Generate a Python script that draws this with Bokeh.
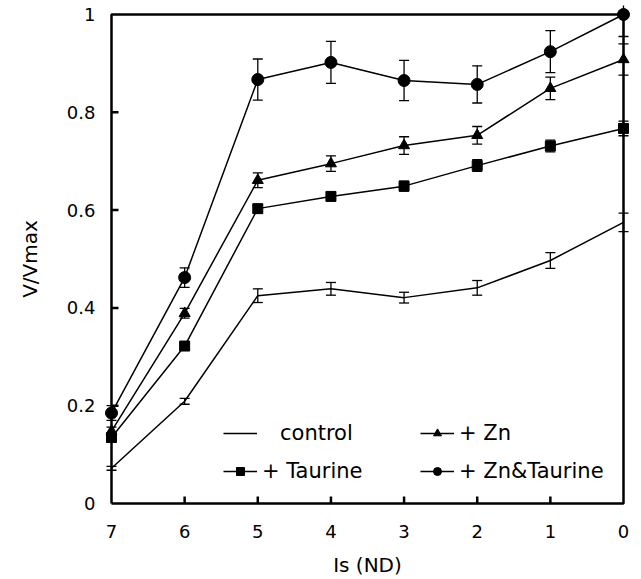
from bokeh.plotting import figure
from bokeh.models import (Range1d, FixedTicker, Whisker, TeeHead, ColumnDataSource,
                          Legend, LegendItem)
from bokeh.embed import file_html
from bokeh.resources import INLINE

# ---- data ----
x_nd = [7, 6, 5, 4, 3, 2, 1, 0]
control = [0.072, 0.209, 0.425, 0.439, 0.421, 0.441, 0.497, 0.575]
control_err = [0.004, 0.006, 0.014, 0.013, 0.011, 0.015, 0.016, 0.019]
taurine = [0.135, 0.322, 0.603, 0.628, 0.649, 0.691, 0.731, 0.767]
taurine_err = [0.006, 0.007, 0.007, 0.008, 0.010, 0.012, 0.012, 0.015]
zn = [0.148, 0.389, 0.661, 0.695, 0.732, 0.753, 0.849, 0.908]
zn_err = [0.008, 0.010, 0.015, 0.016, 0.018, 0.018, 0.023, 0.032]
zntau = [0.185, 0.462, 0.867, 0.902, 0.865, 0.857, 0.924, 1.0]
zntau_err = [0.015, 0.020, 0.042, 0.043, 0.041, 0.038, 0.043, 0.045]

x_ticks = [0, 1, 2, 3, 4, 5, 6, 7]
y_ticks = [0, 0.2, 0.4, 0.6, 0.8, 1.0]
x_min, x_max = 0, 7
y_min, y_max = 0, 1

FONT = "DejaVu Sans"

# small padding so that edge markers are not clipped by the frame
PAD_PX = 9
px_per_x = 512 / (x_max - x_min)
px_per_y = 489 / (y_max - y_min)
dx = PAD_PX / px_per_x
dy = PAD_PX / px_per_y
TICK_PX = 7

p = figure(width=641, height=579, output_backend="svg", toolbar_location=None,
           x_range=Range1d(x_max + dx, x_min - dx),
           y_range=Range1d(y_min - dy, y_max + dy),
           min_border_left=111 - PAD_PX, min_border_right=18 - PAD_PX,
           min_border_top=14 - PAD_PX, min_border_bottom=76 - PAD_PX)
p.grid.visible = False
p.outline_line_color = None
p.background_fill_color = "white"
p.border_fill_color = "white"

for ax in (p.xaxis[0], p.yaxis[0]):
    ax.axis_line_color = None
    ax.major_tick_line_color = None
    ax.minor_tick_line_color = None
    ax.major_tick_in = 0
    ax.major_tick_out = 0
    ax.major_label_text_font = FONT
    ax.major_label_text_font_size = "18px"
    ax.major_label_text_color = "black"
    ax.axis_label_text_font = FONT
    ax.axis_label_text_font_size = "20px"
    ax.axis_label_text_font_style = "normal"
    ax.axis_label_text_color = "black"

p.xaxis.ticker = FixedTicker(ticks=x_ticks)
p.yaxis.ticker = FixedTicker(ticks=y_ticks)
p.yaxis.major_label_overrides = {0: "0", 1: "1"}
p.xaxis.axis_label = "Is (ND)"
p.yaxis.axis_label = "V/Vmax"
p.xaxis.major_label_standoff = 12
p.yaxis.major_label_standoff = 7
p.xaxis.axis_label_standoff = 12
p.yaxis.axis_label_standoff = 22

# box around the data area
p.line([x_max, x_max, x_min, x_min, x_max], [y_min, y_max, y_max, y_min, y_min],
       line_color="black", line_width=2.5)
# inward ticks
tx = [t for t in x_ticks if x_min < t < x_max]
p.segment(x0=tx, y0=[y_min] * len(tx), x1=tx, y1=[y_min + TICK_PX / px_per_y] * len(tx),
          line_color="black", line_width=2.5)
ty = [t for t in y_ticks if y_min < t < y_max]
p.segment(x0=[x_max] * len(ty), y0=ty, x1=[x_max - TICK_PX / px_per_x] * len(ty), y1=ty,
          line_color="black", line_width=2.5)

def add_series(y, err, marker, size, key_size):
    src = ColumnDataSource(dict(x=x_nd, y=y,
                                lo=[a - b for a, b in zip(y, err)],
                                hi=[a + b for a, b in zip(y, err)]))
    w = Whisker(base="x", upper="hi", lower="lo", source=src,
                line_color="black", line_width=1.3,
                upper_head=TeeHead(size=10, line_width=1.3, line_color="black"),
                lower_head=TeeHead(size=10, line_width=1.3, line_color="black"))
    p.add_layout(w)
    r_line = p.line("x", "y", source=src, line_color="black", line_width=1.5)
    key = [r_line]
    if marker is not None:
        p.scatter("x", "y", source=src, marker=marker, size=size,
                  fill_color="black", line_color="black")
        # hidden copy with a smaller marker, used only for the legend key
        k = p.scatter("x", "y", source=src, marker=marker, size=key_size,
                      fill_color="black", line_color="black", visible=False)
        key.append(k)
    return key

k_control = add_series(control, control_err, None, 0, 0)
k_taurine = add_series(taurine, taurine_err, "square", 10, 9)
k_zn = add_series(zn, zn_err, "triangle", 11, 10)
k_zntau = add_series(zntau, zntau_err, "circle", 12, 9)

def add_legend(label, rends, loc, standoff):
    lg = Legend(items=[LegendItem(label=label, renderers=rends)],
                location=loc, padding=0, margin=0, spacing=0,
                glyph_width=34, glyph_height=20, label_standoff=standoff,
                label_text_font=FONT, label_text_font_size="21px",
                label_text_color="black", label_height=20,
                inactive_fill_alpha=0,
                border_line_alpha=0, background_fill_alpha=0)
    p.add_layout(lg)

add_legend("control", k_control, (112 + PAD_PX, 58 + PAD_PX), 23)
add_legend("+ Taurine", k_taurine, (112 + PAD_PX, 20 + PAD_PX), 5)
add_legend("+ Zn", k_zn, (309 + PAD_PX, 58 + PAD_PX), 5)
add_legend("+ Zn&Taurine", k_zntau, (309 + PAD_PX, 20 + PAD_PX), 5)

open("out.html", "w").write(file_html(p, INLINE))
